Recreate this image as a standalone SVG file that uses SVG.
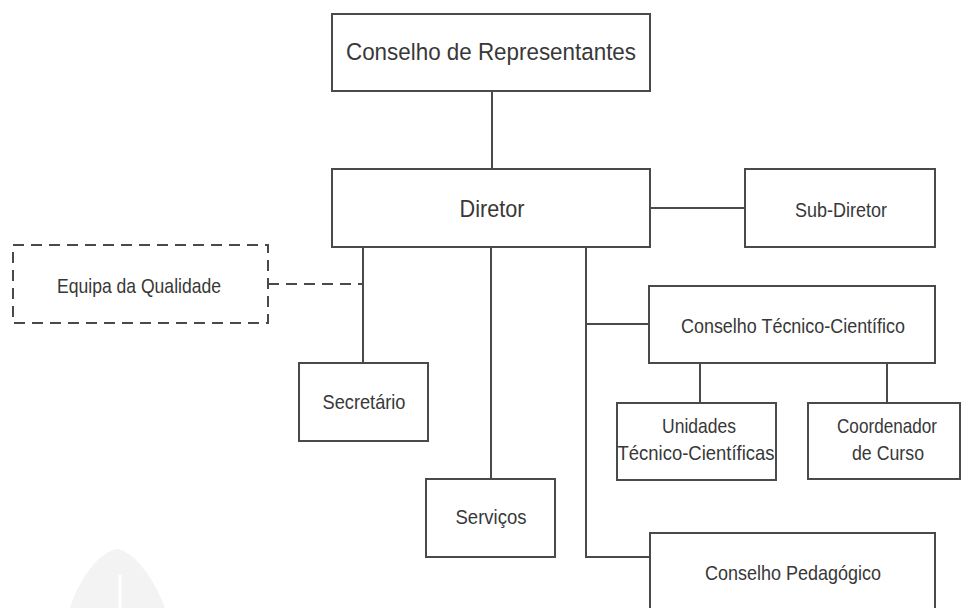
<svg xmlns="http://www.w3.org/2000/svg" width="962" height="608" viewBox="0 0 962 608">
<style>
.box{fill:#fff;stroke:#4a4a4a;stroke-width:2}
.dbox{fill:#fff;stroke:#4a4a4a;stroke-width:2;stroke-dasharray:11 7}
.ln{fill:none;stroke:#4a4a4a;stroke-width:2}
.dln{fill:none;stroke:#4a4a4a;stroke-width:2;stroke-dasharray:11 7}
text{font-family:"Liberation Sans",Arial,sans-serif;fill:#383838;text-anchor:middle}
.big{font-size:24.5px}
.sm{font-size:21px}
</style>
<rect width="962" height="608" fill="#fff"/>
<path d="M70 608 C80 576 100 552 117 549 C134 552 153 576 165 608 Z" fill="#f3f3f3"/>
<line x1="120" y1="575" x2="120" y2="608" stroke="#fff" stroke-width="3"/>
<g id="connectors">
<line class="ln" x1="492" y1="91" x2="492" y2="169"/>
<line class="ln" x1="650" y1="208" x2="745" y2="208"/>
<line class="ln" x1="363" y1="247" x2="363" y2="363"/>
<line class="ln" x1="491" y1="247" x2="491" y2="479"/>
<polyline class="ln" points="586,247 586,557 650,557"/>
<line class="ln" x1="586" y1="324" x2="649" y2="324"/>
<line class="dln" x1="268" y1="284" x2="363" y2="284"/>
<line class="ln" x1="700" y1="363" x2="700" y2="403"/>
<line class="ln" x1="887" y1="363" x2="887" y2="403"/>
</g>
<g id="conselho-representantes">
<rect class="box" x="332" y="14" width="318" height="77"/>
<text class="big" x="491" y="60" textLength="290" lengthAdjust="spacingAndGlyphs">Conselho de Representantes</text>
</g>
<g id="diretor">
<rect class="box" x="332" y="169" width="318" height="78"/>
<text class="big" x="492" y="217" textLength="65" lengthAdjust="spacingAndGlyphs">Diretor</text>
</g>
<g id="sub-diretor">
<rect class="box" x="745" y="169" width="190" height="78"/>
<text class="sm" x="841" y="217" textLength="92" lengthAdjust="spacingAndGlyphs">Sub-Diretor</text>
</g>
<g id="equipa-qualidade">
<rect class="dbox" x="13" y="245" width="255" height="78"/>
<text class="sm" x="139" y="293" textLength="164" lengthAdjust="spacingAndGlyphs">Equipa da Qualidade</text>
</g>
<g id="conselho-tecnico-cientifico">
<rect class="box" x="649" y="286" width="286" height="77"/>
<text class="sm" x="793" y="333" textLength="224" lengthAdjust="spacingAndGlyphs">Conselho Técnico-Científico</text>
</g>
<g id="secretario">
<rect class="box" x="299" y="363" width="129" height="78"/>
<text class="sm" x="364" y="409" textLength="83" lengthAdjust="spacingAndGlyphs">Secretário</text>
</g>
<g id="unidades">
<rect class="box" x="617" y="403" width="159" height="77"/>
<text class="sm" x="699" y="433" textLength="74" lengthAdjust="spacingAndGlyphs">Unidades</text>
<text class="sm" x="696" y="460" textLength="157" lengthAdjust="spacingAndGlyphs">Técnico-Científicas</text>
</g>
<g id="coordenador">
<rect class="box" x="808" y="403" width="152" height="76"/>
<text class="sm" x="887" y="433" textLength="100" lengthAdjust="spacingAndGlyphs">Coordenador</text>
<text class="sm" x="888" y="460" textLength="72" lengthAdjust="spacingAndGlyphs">de Curso</text>
</g>
<g id="servicos">
<rect class="box" x="426" y="479" width="129" height="78"/>
<text class="sm" x="491" y="524" textLength="71" lengthAdjust="spacingAndGlyphs">Serviços</text>
</g>
<g id="conselho-pedagogico">
<rect class="box" x="650" y="533" width="285" height="80"/>
<text class="sm" x="793" y="580" textLength="176" lengthAdjust="spacingAndGlyphs">Conselho Pedagógico</text>
</g>
</svg>
